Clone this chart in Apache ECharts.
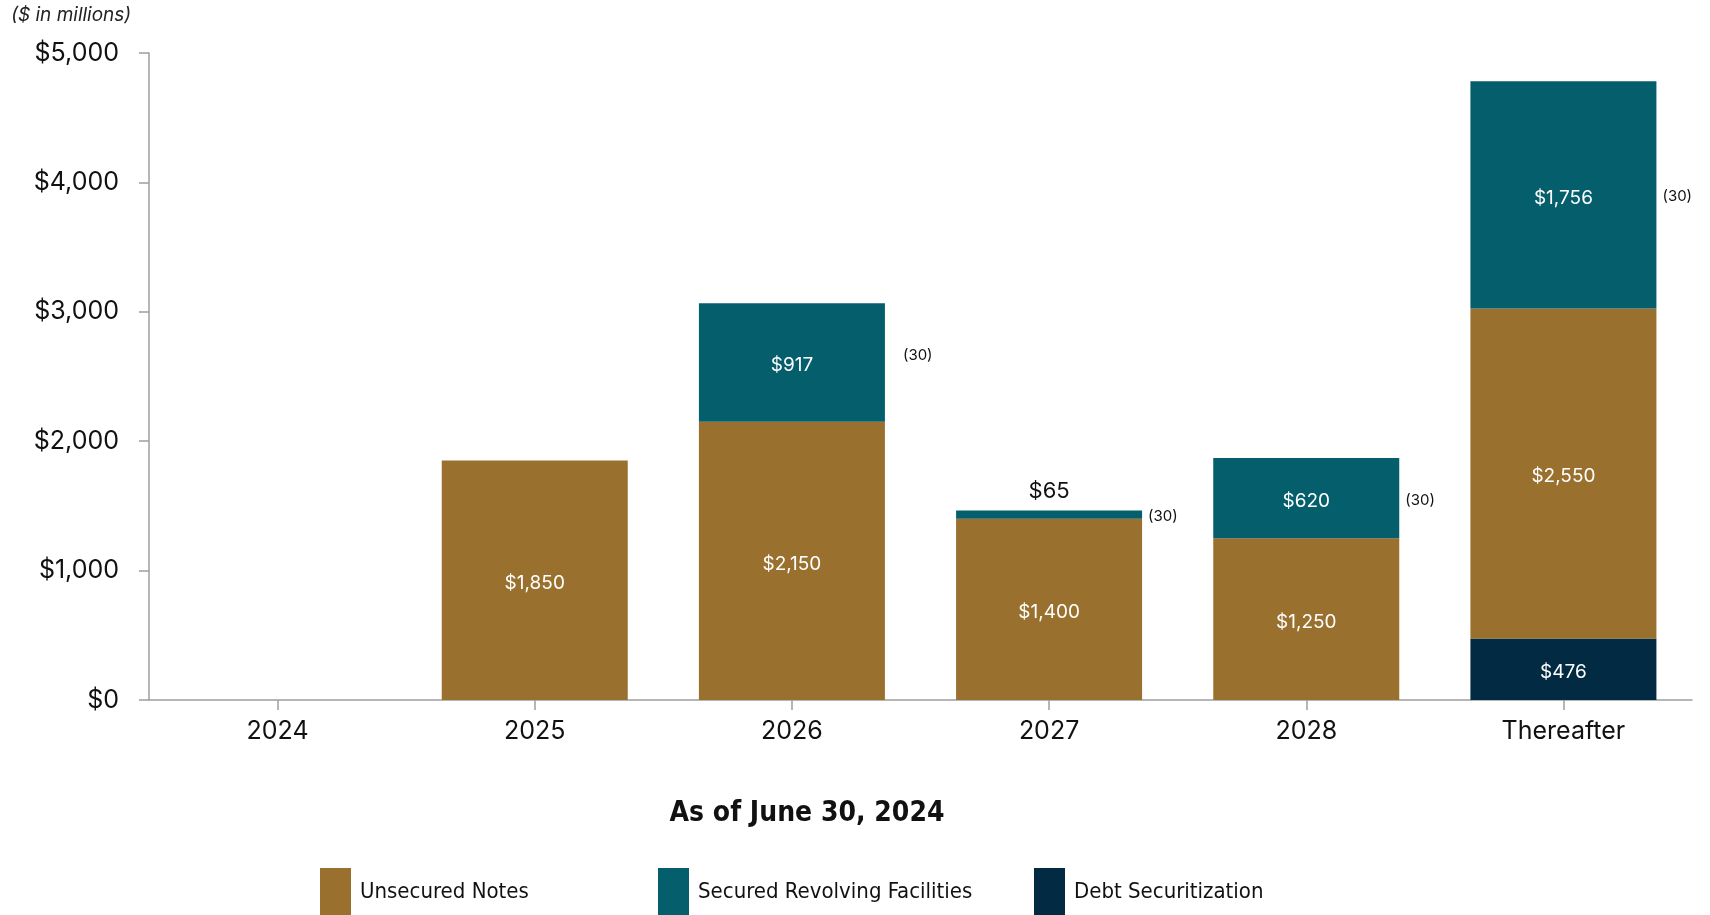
<!DOCTYPE html>
<html>
<head>
<meta charset="utf-8">
<script src="https://cdn.jsdelivr.net/npm/echarts@6/dist/echarts.min.js"></script>
<style>
html,body{margin:0;padding:0;background:#fff;}
#chart{width:1710px;height:915px;}
</style>
</head>
<body>
<div id="chart"></div>
<script>
const categories = ['2024', '2025', '2026', '2027', '2028', 'Thereafter'];
const debtSecuritization = [null, null, null, null, null, 476];
const unsecuredNotes = [null, 1850, 2150, 1400, 1250, 2550];
const securedRevolving = [null, null, 917, 65, 620, 1756];
const issuanceCosts = [null, null, 30, 30, 30, 30];
const yTicks = [0, 1000, 2000, 3000, 4000, 5000];

const COLORS = { unsecured: '#9A702E', secured: '#055E6C', debt: '#022A42' };
const MAIN_FONT = 'Inter, "Noto Sans", sans-serif';
const NARROW_FONT = '"Liberation Sans Narrow", "DejaVu Sans Condensed", "Noto Sans", sans-serif';
const BAR_W = 186;

const fmt = v => '$' + Number(v).toLocaleString('en-US');

const insideLabel = {
  show: true, position: 'inside', color: '#ffffff',
  fontFamily: MAIN_FONT, fontSize: 19, offset: [0, 3],
  formatter: p => (p.value == null ? '' : fmt(p.value))
};

const spacer = unsecuredNotes.map((u, i) => (u || 0) + (debtSecuritization[i] || 0));

const chart = echarts.init(document.getElementById('chart'));
chart.setOption({
  animation: false,
  backgroundColor: '#ffffff',
  grid: { left: 149, right: 18, top: 53, bottom: 215, containLabel: false },
  xAxis: {
    type: 'category',
    data: categories,
    axisLine: { show: true, lineStyle: { color: '#9e9e9e', width: 1.5 } },
    axisTick: { show: true, alignWithLabel: true, length: 10, lineStyle: { color: '#9e9e9e', width: 1.5 } },
    axisLabel: { color: '#111', fontFamily: MAIN_FONT, fontSize: 25, margin: 19 }
  },
  yAxis: {
    type: 'value',
    min: yTicks[0], max: yTicks[yTicks.length - 1], interval: 1000,
    splitLine: { show: false },
    axisLine: { show: true, lineStyle: { color: '#9e9e9e', width: 1.5 } },
    axisTick: { show: true, inside: false, length: 10, lineStyle: { color: '#9e9e9e', width: 1.5 } },
    axisLabel: { color: '#111', fontFamily: MAIN_FONT, fontSize: 25, margin: 30, formatter: v => fmt(v) }
  },
  legend: [
    { data: ['Unsecured Notes'], left: 320, top: 868 },
    { data: ['Secured Revolving Facilities'], left: 658, top: 868 },
    { data: ['Debt Securitization'], left: 1034, top: 868 }
  ].map(l => Object.assign({
    icon: 'rect', itemWidth: 31, itemHeight: 48, padding: 0, selectedMode: false,
    textStyle: { color: '#111', fontFamily: NARROW_FONT, fontSize: 22, padding: [0, 0, 0, 4] }
  }, l)),
  graphic: [
    { type: 'text', left: 11, top: 6, style: { text: '($ in millions)', font: 'italic 19px ' + MAIN_FONT, fill: '#222' } },
    { type: 'text', x: 807, y: 814, style: { text: 'As of June 30, 2024', font: 'bold 28px ' + NARROW_FONT, fill: '#111', textAlign: 'center', textVerticalAlign: 'middle' } }
  ],
  series: [
    {
      name: 'Debt Securitization', type: 'bar', stack: 'a', barWidth: BAR_W, barGap: '-100%',
      itemStyle: { color: COLORS.debt }, label: insideLabel, data: debtSecuritization
    },
    {
      name: 'Unsecured Notes', type: 'bar', stack: 'a', barWidth: BAR_W, barGap: '-100%',
      itemStyle: { color: COLORS.unsecured }, label: insideLabel, data: unsecuredNotes
    },
    {
      name: 'Secured Revolving Facilities', type: 'bar', stack: 'a', barWidth: BAR_W, barGap: '-100%',
      itemStyle: { color: COLORS.secured }, label: insideLabel,
      data: securedRevolving.map(v => (v != null && v < 200)
        ? { value: v, label: { position: 'top', color: '#111', fontSize: 22, distance: 8, offset: [0, 0] } }
        : v)
    },
    {
      name: 'spacer', type: 'bar', stack: 'b', barWidth: BAR_W, barGap: '-100%', silent: true,
      itemStyle: { color: 'rgba(0,0,0,0)' }, label: { show: false }, data: spacer
    },
    {
      name: 'costs', type: 'bar', stack: 'b', barWidth: BAR_W, barGap: '-100%', silent: true,
      itemStyle: { color: 'rgba(0,0,0,0)' },
      label: { show: true, position: 'right', distance: 6, color: '#111', fontFamily: MAIN_FONT, fontSize: 15, offset: [0, 2] },
      data: securedRevolving.map((v, i) => {
        const c = issuanceCosts[i];
        if (c == null) return { value: v, label: { show: false } };
        const item = { value: v, label: { show: true, formatter: '(' + c + ')' } };
        if (i === 2) { item.label.distance = 18; item.label.offset = [0, -7]; }
        return item;
      })
    }
  ]
});
</script>
</body>
</html>
